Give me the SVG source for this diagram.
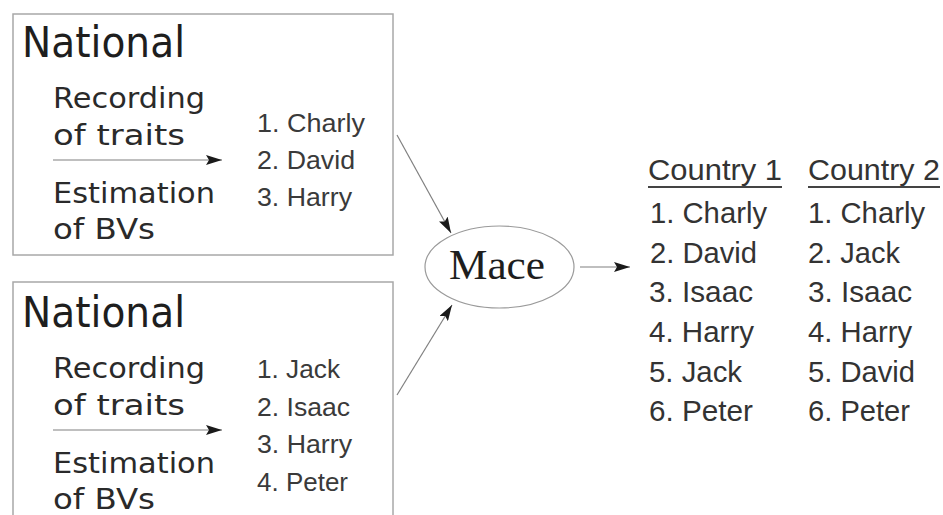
<svg xmlns="http://www.w3.org/2000/svg" width="943" height="515" viewBox="0 0 943 515">
<defs>
<marker id="ah" viewBox="0 0 16 10" refX="16" refY="5" markerWidth="16" markerHeight="10" markerUnits="userSpaceOnUse" orient="auto">
<path d="M0,0 L16,5 L0,10 L3,5 z" fill="#1a1a1a"/>
</marker>
<style>
.box{fill:#fff;stroke:#a8a8a8;stroke-width:1.5}
.big{font-family:"DejaVu Sans","Open Sans",sans-serif;font-size:43px;fill:#1e1e1e}
.hand{font-family:"DejaVu Sans","Open Sans",sans-serif;font-size:28px;fill:#2a2a2a}
.ls{font-family:"Liberation Sans",Arial,sans-serif;font-size:25.5px;fill:#3a3a3a}
.rs{font-family:"Liberation Sans",Arial,sans-serif;font-size:30px;fill:#333}
.mace{font-family:"Liberation Serif","Times New Roman",serif;font-size:42px;fill:#1e1e1e}
.con{stroke:#808080;stroke-width:1.2;fill:none}
.ul{stroke:#444;stroke-width:2}
</style>
</defs>
<rect width="943" height="515" fill="#fff"/>

<g id="national1">
<rect class="box" x="13" y="14" width="380" height="241"/>
<text class="big" x="22" y="57" textLength="163" lengthAdjust="spacingAndGlyphs">National</text>
<text class="hand" x="53" y="108" textLength="152" lengthAdjust="spacingAndGlyphs">Recording</text>
<text class="hand" x="53" y="145" textLength="132" lengthAdjust="spacingAndGlyphs">of traits</text>
<line class="con" x1="53" y1="160" x2="222" y2="160" marker-end="url(#ah)"/>
<text class="hand" x="53" y="203" textLength="162" lengthAdjust="spacingAndGlyphs">Estimation</text>
<text class="hand" x="53" y="239" textLength="102" lengthAdjust="spacingAndGlyphs">of BVs</text>
<text class="ls" x="257" y="132" textLength="108" lengthAdjust="spacingAndGlyphs">1. Charly</text>
<text class="ls" x="257" y="169" textLength="98" lengthAdjust="spacingAndGlyphs">2. David</text>
<text class="ls" x="257" y="206" textLength="95" lengthAdjust="spacingAndGlyphs">3. Harry</text>
</g>

<g id="national2">
<rect class="box" x="13" y="282" width="380" height="250"/>
<text class="big" x="22" y="327" textLength="163" lengthAdjust="spacingAndGlyphs">National</text>
<text class="hand" x="53" y="378" textLength="152" lengthAdjust="spacingAndGlyphs">Recording</text>
<text class="hand" x="53" y="415" textLength="132" lengthAdjust="spacingAndGlyphs">of traits</text>
<line class="con" x1="53" y1="430" x2="222" y2="430" marker-end="url(#ah)"/>
<text class="hand" x="53" y="473" textLength="162" lengthAdjust="spacingAndGlyphs">Estimation</text>
<text class="hand" x="53" y="509" textLength="102" lengthAdjust="spacingAndGlyphs">of BVs</text>
<text class="ls" x="257" y="378" textLength="83" lengthAdjust="spacingAndGlyphs">1. Jack</text>
<text class="ls" x="257" y="416" textLength="93" lengthAdjust="spacingAndGlyphs">2. Isaac</text>
<text class="ls" x="257" y="453" textLength="95" lengthAdjust="spacingAndGlyphs">3. Harry</text>
<text class="ls" x="257" y="491" textLength="91" lengthAdjust="spacingAndGlyphs">4. Peter</text>
</g>

<g id="mace">
<ellipse cx="499.5" cy="267" rx="74.5" ry="41" fill="#fff" stroke="#9a9a9a" stroke-width="1.2"/>
<text class="mace" x="497" y="279" text-anchor="middle" textLength="96" lengthAdjust="spacingAndGlyphs">Mace</text>
</g>

<g id="country1">
<text class="rs" x="648" y="180" textLength="134" lengthAdjust="spacingAndGlyphs">Country 1</text>
<line class="ul" x1="648" y1="187" x2="782" y2="187"/>
<text class="rs" x="650" y="223" textLength="117" lengthAdjust="spacingAndGlyphs">1. Charly</text>
<text class="rs" x="650" y="262.5" textLength="107" lengthAdjust="spacingAndGlyphs">2. David</text>
<text class="rs" x="649" y="302" textLength="104" lengthAdjust="spacingAndGlyphs">3. Isaac</text>
<text class="rs" x="649" y="342" textLength="105" lengthAdjust="spacingAndGlyphs">4. Harry</text>
<text class="rs" x="649" y="381.5" textLength="93" lengthAdjust="spacingAndGlyphs">5. Jack</text>
<text class="rs" x="649" y="421" textLength="104" lengthAdjust="spacingAndGlyphs">6. Peter</text>
</g>

<g id="country2">
<text class="rs" x="808" y="180" textLength="132" lengthAdjust="spacingAndGlyphs">Country 2</text>
<line class="ul" x1="808" y1="187" x2="940" y2="187"/>
<text class="rs" x="808" y="223" textLength="117" lengthAdjust="spacingAndGlyphs">1. Charly</text>
<text class="rs" x="808" y="262.5" textLength="92" lengthAdjust="spacingAndGlyphs">2. Jack</text>
<text class="rs" x="808" y="302" textLength="104" lengthAdjust="spacingAndGlyphs">3. Isaac</text>
<text class="rs" x="808" y="342" textLength="104" lengthAdjust="spacingAndGlyphs">4. Harry</text>
<text class="rs" x="808" y="381.5" textLength="107" lengthAdjust="spacingAndGlyphs">5. David</text>
<text class="rs" x="808" y="421" textLength="102" lengthAdjust="spacingAndGlyphs">6. Peter</text>
</g>

<g id="connectors">
<line class="con" x1="397" y1="135" x2="451" y2="233" marker-end="url(#ah)"/>
<line class="con" x1="397" y1="395" x2="452" y2="305" marker-end="url(#ah)"/>
<line class="con" x1="580" y1="267" x2="630" y2="267" marker-end="url(#ah)"/>
</g>
</svg>
